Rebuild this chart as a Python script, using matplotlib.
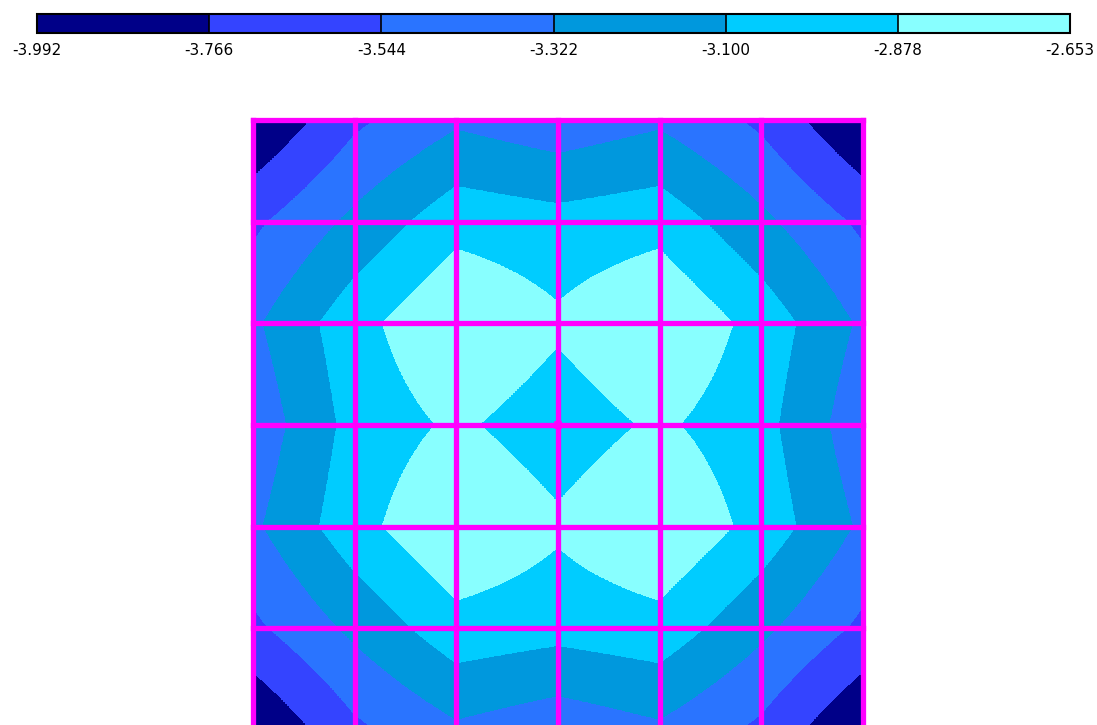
import numpy as np
import matplotlib
matplotlib.use("Agg")
import matplotlib.pyplot as plt
from matplotlib.colors import ListedColormap, BoundaryNorm

# contour band limits (colorbar labels)
levels = [-3.992, -3.766, -3.544, -3.322, -3.100, -2.878, -2.653]
band_colors = ['#000088', '#3444ff', '#2a74ff', '#0098dd', '#00ccff', '#88ffff']

# nodal values on the 7x7 mesh (rows top -> bottom)
row0 = [-3.992, -3.59, -3.36, -3.47, -3.36, -3.59, -3.992]
row1 = [-3.59, -3.27, -2.96, -3.02, -2.96, -3.27, -3.59]
row2 = [-3.36, -2.96, -2.653, -2.84, -2.653, -2.96, -3.36]
row3 = [-3.47, -3.02, -2.84, -3.00, -2.84, -3.02, -3.47]
row4 = [-3.36, -2.96, -2.653, -2.84, -2.653, -2.96, -3.36]
row5 = [-3.59, -3.27, -2.96, -3.02, -2.96, -3.27, -3.59]
row6 = [-3.992, -3.59, -3.36, -3.47, -3.36, -3.59, -3.992]
mesh_lines = [0, 1, 2, 3, 4, 5, 6]
marked_node = (3, 3)

values = np.array([row0, row1, row2, row3, row4, row5, row6])

plt.rcParams['font.family'] = ['DejaVu Sans']

fig = plt.figure(figsize=(10.97, 7.25), dpi=100)

cmap = ListedColormap(band_colors)
norm = BoundaryNorm(levels, cmap.N)

# main contour plate
ax = fig.add_axes([253 / 1097, 1 - 730 / 725, 610 / 1097, 610 / 725])
n = len(mesh_lines) - 1
im = ax.imshow(values, cmap=cmap, norm=norm, interpolation='bilinear',
               interpolation_stage='data', origin='upper',
               extent=(-0.5, n + 0.5, n + 0.5, -0.5))
ax.set_xlim(0, n)
ax.set_ylim(n, 0)
for p in mesh_lines:
    ax.axvline(p, color='#ff00ff', lw=3.8, clip_on=False)
    ax.axhline(p, color='#ff00ff', lw=3.8, clip_on=False)
ax.plot(marked_node[0], marked_node[1], 's', ms=5, mfc='none', mec='#ff00ff', mew=1.2)
ax.axis('off')

# colour bar on top
cax = fig.add_axes([37 / 1097, 1 - 33 / 725, 1033 / 1097, 19 / 725])
cb = fig.colorbar(im, cax=cax, orientation='horizontal', ticks=levels, drawedges=True)
cb.set_ticklabels(['%.3f' % v for v in levels])
cb.outline.set_linewidth(1.5)
cb.dividers.set_linewidth(1.2)
cax.tick_params(length=0, labelsize=11, pad=7)

plt.savefig("out.png", dpi=100)
